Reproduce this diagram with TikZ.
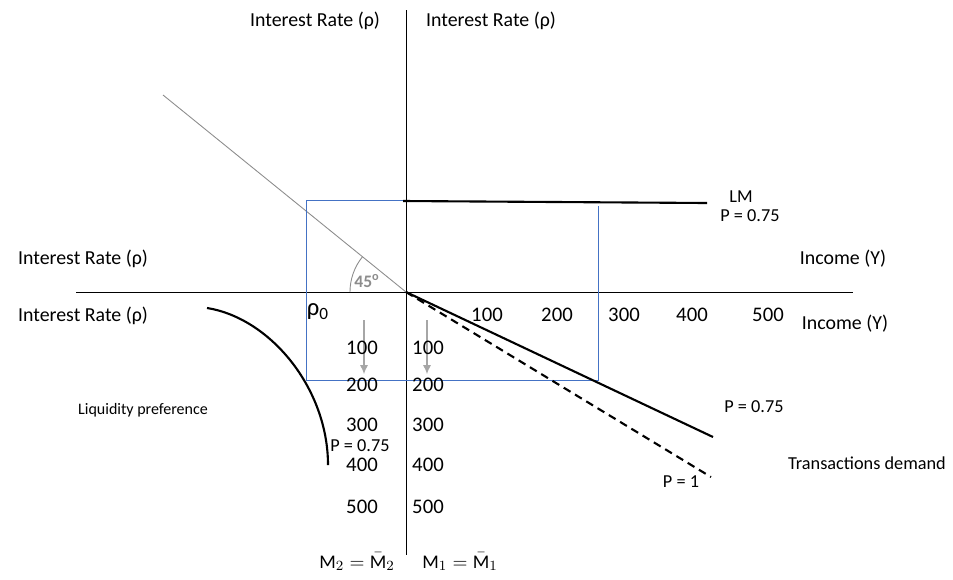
\documentclass[tikz,border=0pt]{standalone}
\usepackage{fontspec}
\setmainfont{Carlito}
\usepackage{xcolor}
\usetikzlibrary{arrows.meta}
\definecolor{Ink}{HTML}{000000}
\definecolor{Guide}{HTML}{4472C4}
\definecolor{Grey}{HTML}{8C8C8C}
\definecolor{LightGrey}{HTML}{A6A6A6}

\begin{document}
\begin{tikzpicture}[x=0.02cm,y=-0.02cm,>=Latex,
  axislabel/.style={font=\fontsize{11.3}{13}\selectfont,inner sep=0pt},
  ticklabel/.style={font=\fontsize{11.8}{13}\selectfont,inner sep=0pt},
  note/.style={font=\fontsize{10.4}{12}\selectfont,inner sep=0pt},
  smallnote/.style={font=\fontsize{9.1}{11}\selectfont,inner sep=0pt},
  axisline/.style={Ink,line width=0.5pt},
  curveline/.style={Ink,line width=1.2pt},
  guideline/.style={Guide,line width=0.5pt}]
  \useasboundingbox (0,0) rectangle (953,579);
  % axes
  \coordinate (O) at (406,292);
  \coordinate (ytop) at (406,10);
  \coordinate (ybot) at (406,555);
  \coordinate (xleft) at (76,292);
  \coordinate (xright) at (853,292);
  \draw[axisline] (ytop) -- (ybot);
  \draw[axisline] (xleft) -- (xright);
  % 45 degree line and angle
  \coordinate (diag) at (163,95);
  \draw[Grey,line width=0.5pt] (diag) -- (O);
  \draw[Grey,line width=0.5pt] (350,292) arc[start angle=180,end angle=219,radius=56];
  \node[Grey,font=\fontsize{10}{12}\selectfont\bfseries,inner sep=0pt] (angle) at (367,281) {45\textsuperscript{o}};
  % blue guide lines
  \coordinate (gtop) at (406,200);
  \coordinate (gcorner) at (306,200);
  \coordinate (gleft) at (306,380);
  \coordinate (gright) at (598,380);
  \coordinate (gup) at (598,206);
  \draw[guideline] (gtop) -- (gcorner) -- (gleft) -- (gright) -- (gup);
  % LM
  \coordinate (lmstart) at (403,201);
  \coordinate (lmend) at (707,203);
  \draw[curveline] (lmstart) -- (lmend);
  % transactions demand
  \coordinate (tdsolid) at (713,437);
  \coordinate (tddash) at (711,477);
  \draw[curveline] (O) -- (tdsolid);
  \draw[curveline,dash pattern=on 4.5pt off 3pt] (O) -- (tddash);
  % liquidity preference
  \coordinate (lpstart) at (207,308);
  \coordinate (lpend) at (328,465);
  \draw[curveline] (lpstart) .. controls (270,318) and (328,388) .. (lpend);
  % small arrows
  \coordinate (a1) at (364,320);
  \coordinate (a2) at (364,374);
  \coordinate (b1) at (427,320);
  \coordinate (b2) at (427,374);
  \draw[LightGrey,line width=0.6pt,-{Latex[length=5pt,width=4.5pt]}] (a1) -- (a2);
  \draw[LightGrey,line width=0.6pt,-{Latex[length=5pt,width=4.5pt]}] (b1) -- (b2);
  % axis labels
  \node[axislabel] (rtopl) at (315,21) {Interest Rate (ρ)};
  \node[axislabel] (rtopr) at (491,21) {Interest Rate (ρ)};
  \node[axislabel] (rleftu) at (83,259) {Interest Rate (ρ)};
  \node[axislabel] (rleftd) at (83,316) {Interest Rate (ρ)};
  \node[axislabel] (incu) at (843,259) {Income (Y)};
  \node[axislabel] (incd) at (845,324) {Income (Y)};
  \node[font=\fontsize{14}{16}\selectfont,inner sep=0pt] (rho0) at (318,312) {ρ\textsubscript{0}};
  % scale numbers
  \foreach \v/\xx in {100/487,200/557,300/624,400/692,500/768}
    \node[ticklabel] (h\v) at (\xx,315) {\v};
  \foreach \v/\yy in {100/348,200/385,300/425,400/465,500/507} {
    \node[ticklabel] (l\v) at (362,\yy) {\v};
    \node[ticklabel] (r\v) at (428,\yy) {\v};
  }
  % curve labels
  \node[note] (lmlab) at (741,197) {LM};
  \node[note] (lmp) at (750,216) {P = 0.75};
  \node[note] (tdp) at (754,407) {P = 0.75};
  \node[note] (tdlab) at (867,463) {Transactions demand};
  \node[note] (tdone) at (681,482) {P = 1};
  \node[note] (lpp) at (360,446) {P = 0.75};
  \node[smallnote] (lplab) at (143,410) {Liquidity preference};
  \node[font=\fontsize{11}{13}\selectfont,inner sep=0pt] (mtwo) at (357,562) {$\mathrm{M}_2=\bar{\mathrm{M}}_2$};
  \node[font=\fontsize{11}{13}\selectfont,inner sep=0pt] (mone) at (460,562) {$\mathrm{M}_1=\bar{\mathrm{M}}_1$};
\end{tikzpicture}
\end{document}
